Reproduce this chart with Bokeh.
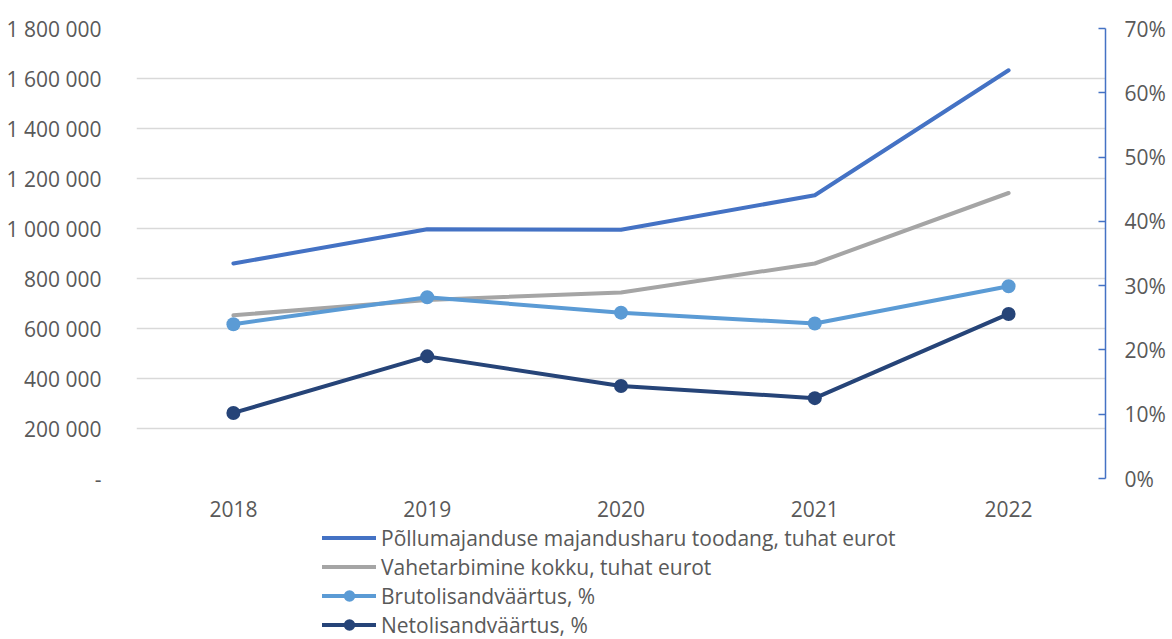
from bokeh.plotting import figure
from bokeh.layouts import column
from bokeh.models import (Range1d, LinearAxis, FixedTicker, Legend, LegendItem,
                          FactorRange)
from bokeh.embed import file_html
from bokeh.resources import INLINE

years = ["2018", "2019", "2020", "2021", "2022"]
toodang = [860000, 997000, 995000, 1133000, 1633000]
vahetarbimine = [653000, 714000, 744000, 860000, 1142000]
bruto = [24.0, 28.2, 25.8, 24.1, 29.9]
neto = [10.2, 19.0, 14.4, 12.5, 25.6]

series_names = [
    "Põllumajanduse majandusharu toodang, tuhat eurot",
    "Vahetarbimine kokku, tuhat eurot",
    "Brutolisandväärtus, %",
    "Netolisandväärtus, %",
]
series_colors = ["#4472C4", "#A5A5A5", "#5B9BD5", "#264478"]
series_values = [toodang, vahetarbimine, bruto, neto]

left_ticks = [0, 200000, 400000, 600000, 800000, 1000000, 1200000, 1400000, 1600000, 1800000]
left_tick_labels = ["-", "200 000", "400 000", "600 000", "800 000", "1 000 000",
                    "1 200 000", "1 400 000", "1 600 000", "1 800 000"]
right_ticks = [0, 10, 20, 30, 40, 50, 60, 70]
right_tick_labels = ["0%", "10%", "20%", "30%", "40%", "50%", "60%", "70%"]

FONT = "Open Sans"
TXT = "#595959"
W = 1172

p = figure(x_range=FactorRange(*years), y_range=Range1d(0, 1800000),
           width=W, height=525, output_backend="svg", toolbar_location=None,
           min_border_left=136, min_border_right=67, min_border_top=28,
           min_border_bottom=47, outline_line_color=None)
p.x_range.range_padding = 0

p.xaxis.axis_line_color = None
p.xaxis.major_tick_line_color = None
p.xaxis.minor_tick_line_color = None
p.xaxis.major_label_text_font = FONT
p.xaxis.major_label_text_font_size = "21px"
p.xaxis.major_label_text_color = TXT
p.xaxis.major_label_standoff = 16

p.yaxis.ticker = FixedTicker(ticks=left_ticks)
p.yaxis.major_label_overrides = {t: l for t, l in zip(left_ticks, left_tick_labels)}
p.yaxis.axis_line_color = None
p.yaxis.major_tick_line_color = None
p.yaxis.minor_tick_line_color = None
p.yaxis.major_label_text_font = FONT
p.yaxis.major_label_text_font_size = "21px"
p.yaxis.major_label_text_color = TXT
p.yaxis.major_label_standoff = 29

p.ygrid.ticker = FixedTicker(ticks=left_ticks)
p.ygrid.grid_line_color = "#D9D9D9"
p.ygrid.grid_line_width = 1.3
p.xgrid.grid_line_color = None

p.extra_y_ranges = {"pct": Range1d(0, 70)}
right = LinearAxis(y_range_name="pct", ticker=FixedTicker(ticks=right_ticks),
                   major_label_overrides={t: l for t, l in zip(right_ticks, right_tick_labels)},
                   axis_line_color="#4472C4", axis_line_width=1.5,
                   major_tick_line_color="#4472C4", major_tick_line_width=1.5,
                   major_tick_in=7, major_tick_out=0, minor_tick_line_color=None,
                   major_label_standoff=19, major_label_text_font=FONT,
                   major_label_text_font_size="21px", major_label_text_color=TXT)
p.add_layout(right, "right")

lw = 4
p.line(years, toodang, line_color=series_colors[0], line_width=lw,
       line_cap="round", line_join="round")
p.line(years, vahetarbimine, line_color=series_colors[1], line_width=lw,
       line_cap="round", line_join="round")
p.line(years, bruto, y_range_name="pct", line_color=series_colors[2], line_width=lw,
       line_cap="round", line_join="round")
p.scatter(years, bruto, y_range_name="pct", size=14, fill_color=series_colors[2],
          line_color=None)
p.line(years, neto, y_range_name="pct", line_color=series_colors[3], line_width=lw,
       line_cap="round", line_join="round")
p.scatter(years, neto, y_range_name="pct", size=14, fill_color=series_colors[3],
          line_color=None)

# legend strip below the chart: same series drawn outside its visible range,
# so only their legend glyphs show
leg = figure(width=W, height=114, x_range=FactorRange(*years), y_range=Range1d(-2, -1),
             x_axis_type=None, y_axis_type=None, output_backend="svg",
             toolbar_location=None, min_border=0, outline_line_color=None)
leg.grid.visible = False
items = []
for i, (name, col, vals) in enumerate(zip(series_names, series_colors, series_values)):
    rs = [leg.line(years, vals, line_color=col, line_width=lw, line_cap="round")]
    if i >= 2:
        rs.append(leg.scatter(years, vals, size=14, fill_color=col, line_color=None))
    items.append(LegendItem(label=name, renderers=rs))

legend = Legend(items=items, location=(186, 0), orientation="vertical",
                glyph_width=54, glyph_height=29, label_height=29, spacing=-2,
                padding=0, margin=0, border_line_color=None, background_fill_alpha=0,
                label_text_font=FONT, label_text_font_size="21px",
                label_text_color=TXT, label_standoff=5)
leg.add_layout(legend, "center")

layout = column(p, leg, spacing=0)
open("out.html", "w").write(file_html(layout, INLINE))
